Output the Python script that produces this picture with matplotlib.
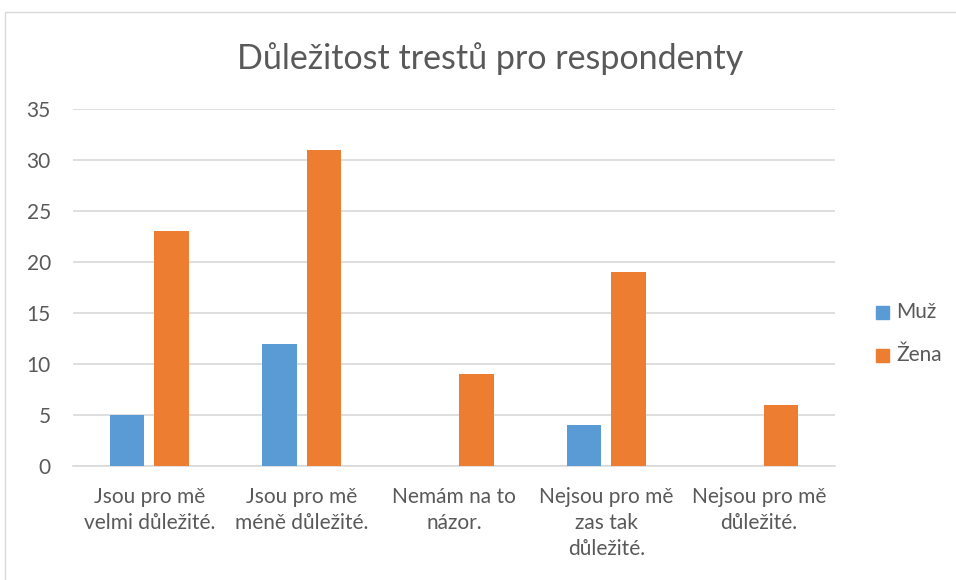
import matplotlib.pyplot as plt
from matplotlib.patches import Rectangle
import numpy as np

plt.rcParams['font.family'] = ['Lato', 'DejaVu Sans']

categories = ['Jsou pro mě\nvelmi důležité.', 'Jsou pro mě\nméně důležité.', 'Nemám na to\nnázor.',
              'Nejsou pro mě\nzas tak\ndůležité.', 'Nejsou pro mě\ndůležité.']
muz = [5, 12, 0, 4, 0]
zena = [23, 31, 9, 19, 6]
series_names = ['Muž', 'Žena']
colors = ['#5b9bd5', '#ed7d31']
text_col = '#595959'

fig = plt.figure(figsize=(9.56, 5.8), dpi=100)
W, H = 956, 580
ax = fig.add_axes([73 / W, 1 - 466 / H, (835 - 73) / W, (466 - 109) / H])

x = np.arange(len(categories))
bw = 0.227
off = 0.146
ax.bar(x - off, muz, bw, color=colors[0], zorder=3, label=series_names[0])
ax.bar(x + off, zena, bw, color=colors[1], zorder=3, label=series_names[1])

ax.set_xlim(-0.5, 4.5)
ax.set_ylim(0, 35)
ax.set_yticks(range(0, 36, 5))
ax.yaxis.grid(True, color='#d9d9d9', linewidth=1.2, zorder=0)
for s in ['top', 'right', 'left']:
    ax.spines[s].set_visible(False)
ax.spines['bottom'].set_color('#d9d9d9')
ax.spines['bottom'].set_linewidth(1.2)
ax.tick_params(axis='both', length=0, colors=text_col, labelsize=15)
ax.tick_params(axis='y', pad=16)
ax.tick_params(axis='x', pad=15)
ax.set_xticks(x)
ax.set_xticklabels(categories, linespacing=1.37)

fig.text(490 / W, 1 - 59 / H, 'Důležitost trestů pro respondenty', ha='center', va='center',
         fontsize=24.5, color=text_col)

# legend
for i, (name, c) in enumerate(zip(series_names, colors)):
    yy = 312 + i * 43
    fig.patches.append(Rectangle((876 / W, 1 - (yy + 6.5) / H), 13 / W, 13 / H,
                                 transform=fig.transFigure, color=c))
    fig.text(896 / W, 1 - yy / H, name, ha='left', va='center', fontsize=15, color=text_col)

# outer chart border
fig.patches.append(Rectangle((4.5 / W, -0.1), 1.2, 1 - 11.5 / H + 0.1, transform=fig.transFigure,
                             fill=False, edgecolor='#d9d9d9', linewidth=1))

fig.savefig('out.png', dpi=100)
